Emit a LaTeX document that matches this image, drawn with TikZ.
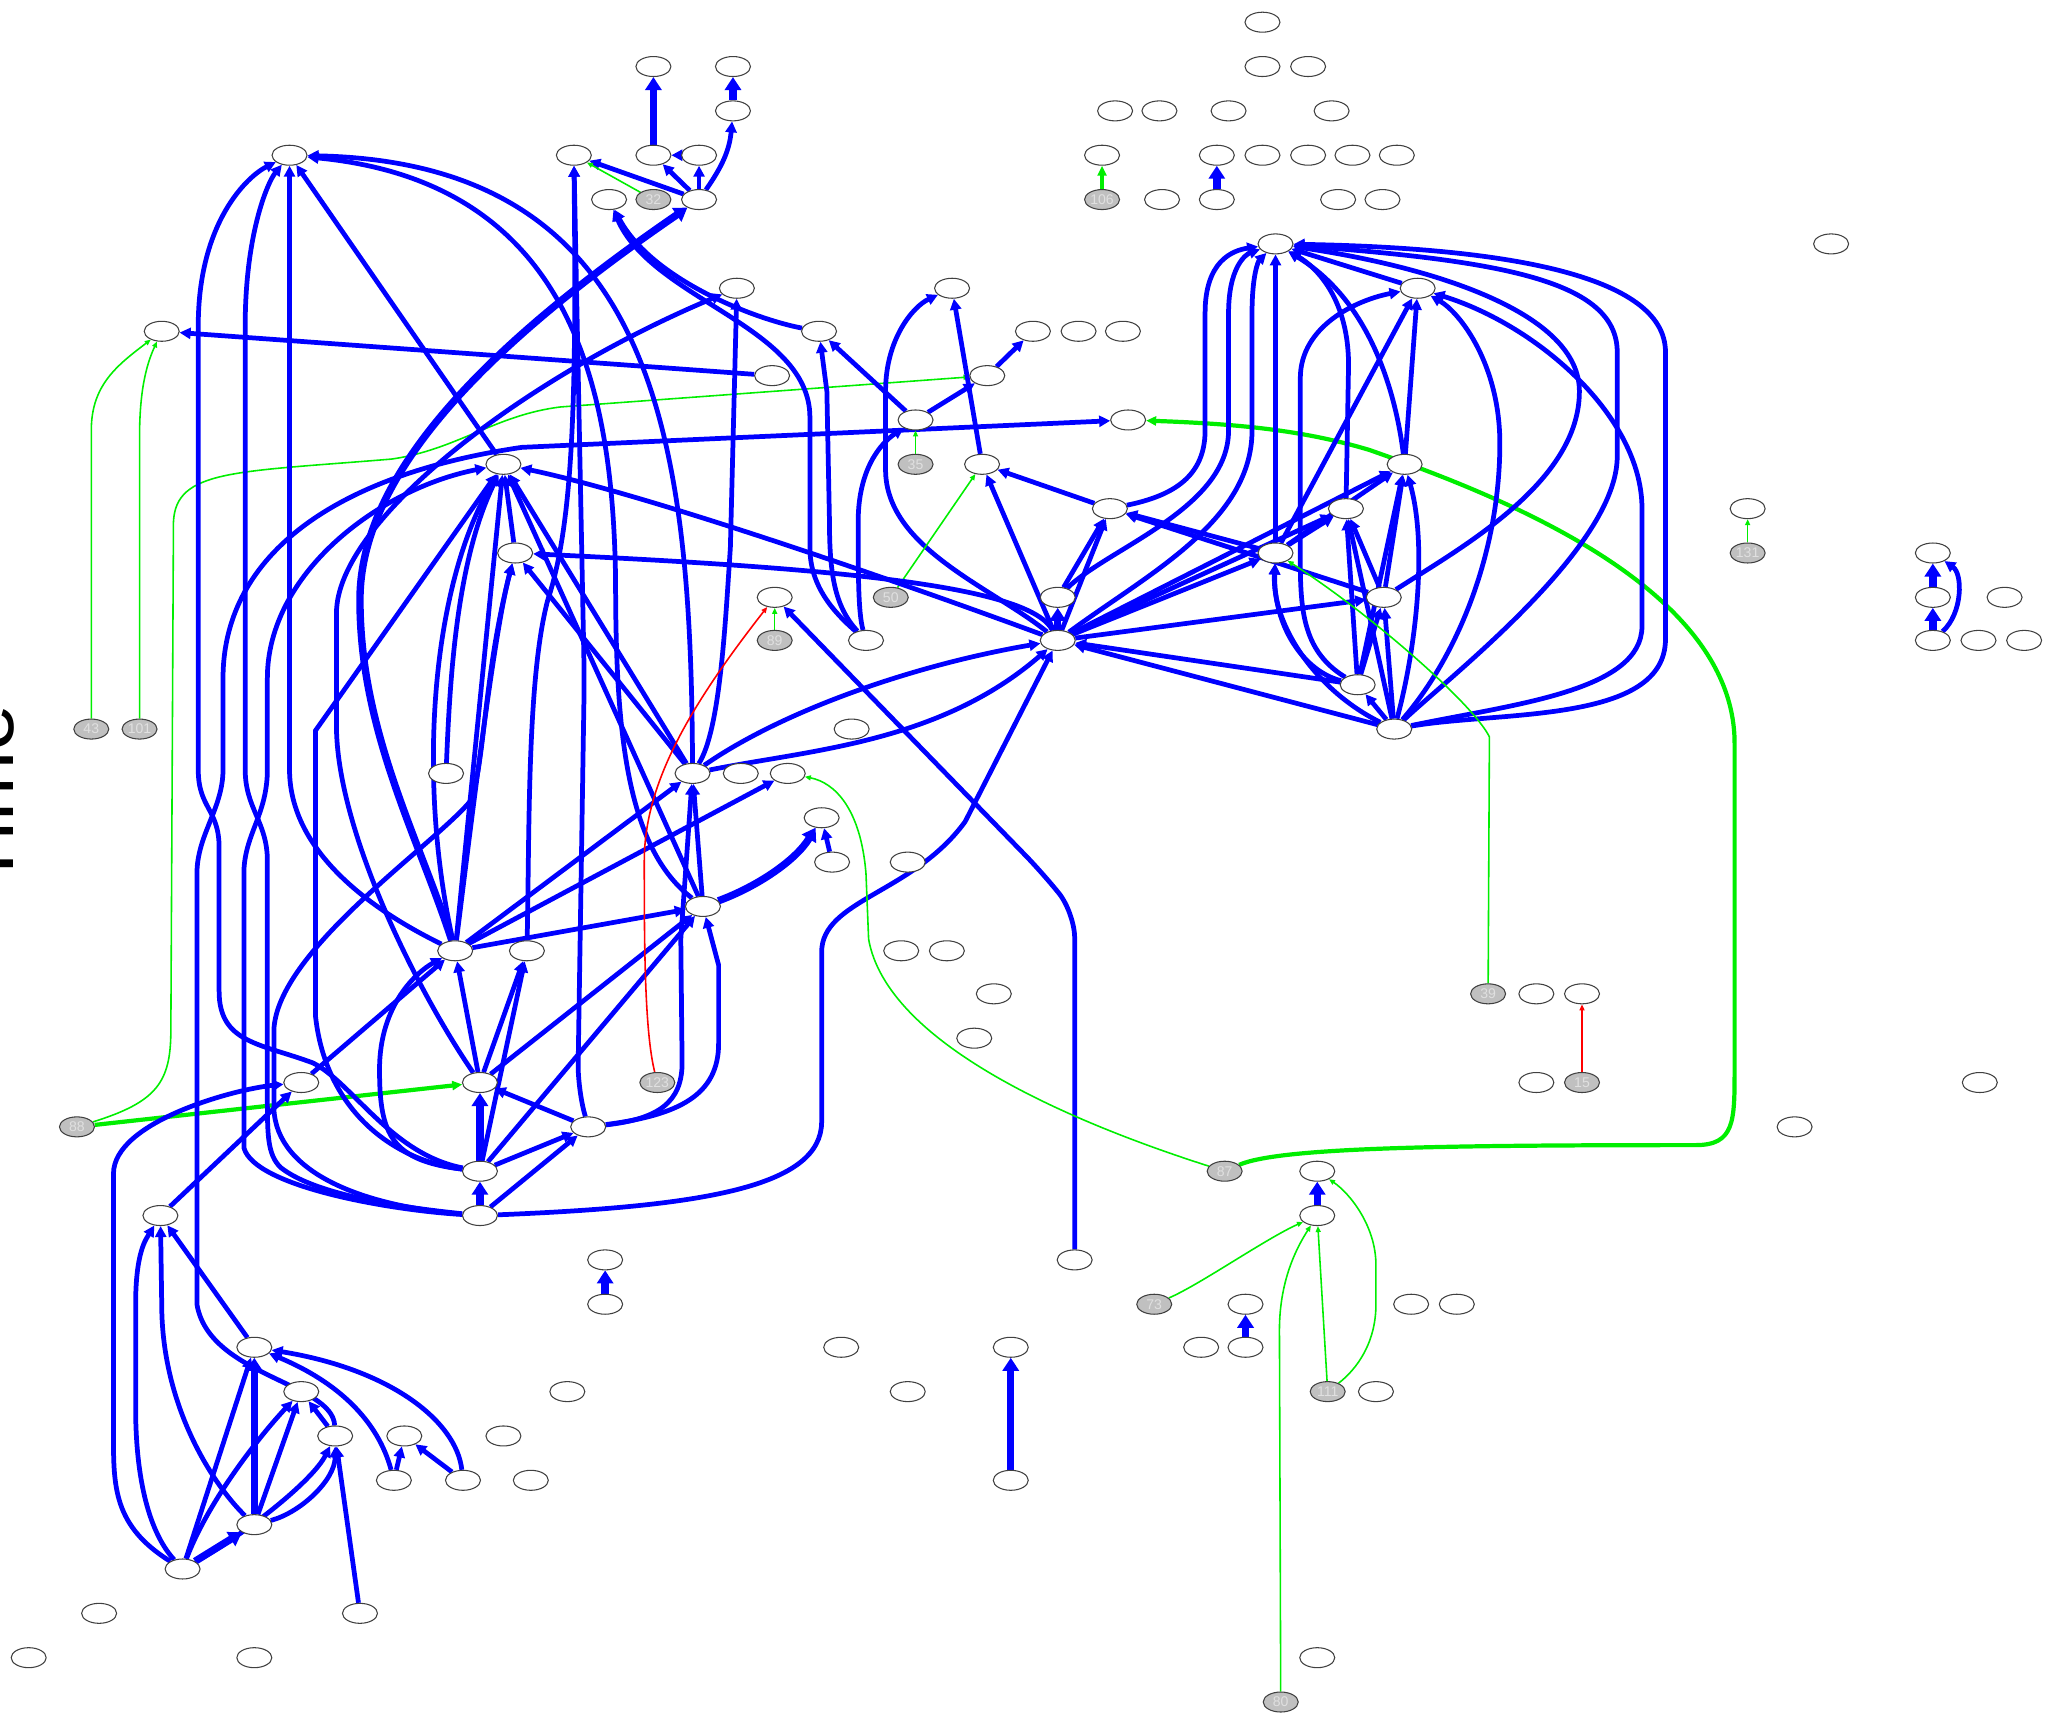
\documentclass[tikz,border=0pt]{standalone}
\usepackage{fontspec}
\setmainfont{Liberation Sans}
\usetikzlibrary{arrows.meta,shapes.geometric,backgrounds}
\definecolor{gvblue}{RGB}{0,0,255}
\definecolor{gvgreen}{RGB}{0,238,0}
\definecolor{gvred}{RGB}{255,0,0}
\definecolor{seedgray}{RGB}{192,192,192}

\begin{document}
\begin{tikzpicture}[
  x=0.013042cm, y=-0.013042cm,
  vtx/.style={ellipse, draw=black!75, line width=0.3pt, fill=white, minimum width=0.35cm, minimum height=0.2cm, inner sep=0pt},
  seed/.style={vtx, fill=seedgray, font=\fontsize{4}{4}\selectfont, text=black!12},
  flow/.style={draw=gvblue, line width=1.35pt, -{Triangle[length=0.11cm, width=0.11cm]}},
  flowx/.style={flow, line width=2.1pt, -{Triangle[length=0.13cm, width=0.16cm]}},
  trig/.style={draw=gvgreen, line width=0.45pt, -{Triangle[length=0.06cm, width=0.05cm]}},
  trigx/.style={trig, line width=1.2pt, -{Triangle[length=0.1cm, width=0.09cm]}},
  inhib/.style={trig, draw=gvred},
  kinked/.style={rounded corners=0.25cm}
]
\useasboundingbox (0,0) rectangle (1568,1315);

% time axis label
\node[rotate=90, anchor=base, font=\fontsize{24}{24}\selectfont] (timelbl) at (10,611) {Time};

% rows 0-5
\node[vtx] (r0a) at (968,17) {};
\node[vtx] (r1a) at (501,51) {};
\node[vtx] (r1b) at (562,51) {};
\node[vtx] (r1c) at (968,51) {};
\node[vtx] (r1d) at (1003,51) {};
\node[vtx] (r2a) at (562,85) {};
\node[vtx] (r2b) at (855,85) {};
\node[vtx] (r2c) at (889,85) {};
\node[vtx] (r2d) at (942,85) {};
\node[vtx] (r2e) at (1021,85) {};
\node[vtx] (r3a) at (222,119) {};
\node[vtx] (r3b) at (440,119) {};
\node[vtx] (r3c) at (501,119) {};
\node[vtx] (r3d) at (536,119) {};
\node[vtx] (r3e) at (845,119) {};
\node[vtx] (r3f) at (933,119) {};
\node[vtx] (r3g) at (968,119) {};
\node[vtx] (r3h) at (1003,119) {};
\node[vtx] (r3i) at (1037,119) {};
\node[vtx] (r3j) at (1071,119) {};
\node[vtx] (r4a) at (467,153) {};
\node[seed] (g32) at (501,153) {32};
\node[vtx] (r4b) at (536,153) {};
\node[seed] (g106) at (845,153) {106};
\node[vtx] (r4c) at (891,153) {};
\node[vtx] (r4d) at (933,153) {};
\node[vtx] (r4e) at (1026,153) {};
\node[vtx] (r4f) at (1060,153) {};
\node[vtx] (r5a) at (978,187) {};
\node[vtx] (r5b) at (1404,187) {};

% rows 6-14
\node[vtx] (r6a) at (565,221) {};
\node[vtx] (r6b) at (730,221) {};
\node[vtx] (r6c) at (1087,221) {};
\node[vtx] (r7a) at (124,254) {};
\node[vtx] (r7b) at (628,254) {};
\node[vtx] (r7c) at (792,254) {};
\node[vtx] (r7d) at (827,254) {};
\node[vtx] (r7e) at (861,254) {};
\node[vtx] (r8a) at (592,288) {};
\node[vtx] (r8b) at (757,288) {};
\node[vtx] (r9a) at (702,322) {};
\node[vtx] (r9b) at (865,322) {};
\node[vtx] (r10a) at (386,356) {};
\node[seed] (g35) at (702,356) {35};
\node[vtx] (r10b) at (753,356) {};
\node[vtx] (r10c) at (1077,356) {};
\node[vtx] (r11a) at (851,390) {};
\node[vtx] (r11b) at (1032,390) {};
\node[vtx] (r11c) at (1340,390) {};
\node[vtx] (r12a) at (395,424) {};
\node[vtx] (r12b) at (978,424) {};
\node[seed] (g131) at (1340,424) {131};
\node[vtx] (r12c) at (1482,424) {};
\node[vtx] (r13a) at (594,458) {};
\node[seed] (g50) at (683,458) {50};
\node[vtx] (r13b) at (811,458) {};
\node[vtx] (r13c) at (1061,458) {};
\node[vtx] (r13d) at (1482,458) {};
\node[vtx] (r13e) at (1537,458) {};
\node[seed] (g89) at (594,491) {89};
\node[vtx] (r14a) at (664,491) {};
\node[vtx] (r14b) at (811,491) {};
\node[vtx] (r14c) at (1482,491) {};
\node[vtx] (r14d) at (1517,491) {};
\node[vtx] (r14e) at (1552,491) {};

% rows 15-25
\node[vtx] (r15a) at (1041,525) {};
\node[seed] (g43) at (70,559) {43};
\node[seed] (g101) at (107,559) {101};
\node[vtx] (r16a) at (653,559) {};
\node[vtx] (r16b) at (1069,559) {};
\node[vtx] (r17a) at (342,593) {};
\node[vtx] (r17b) at (531,593) {};
\node[vtx] (r17c) at (568,593) {};
\node[vtx] (r17d) at (604,593) {};
\node[vtx] (r18a) at (630,627) {};
\node[vtx] (r19a) at (638,661) {};
\node[vtx] (r19b) at (696,661) {};
\node[vtx] (r20a) at (539,695) {};
\node[vtx] (r21a) at (349,729) {};
\node[vtx] (r21b) at (404,729) {};
\node[vtx] (r21c) at (691,729) {};
\node[vtx] (r21d) at (726,729) {};
\node[vtx] (r22a) at (762,762) {};
\node[seed] (g39) at (1141,762) {39};
\node[vtx] (r22b) at (1178,762) {};
\node[vtx] (r22c) at (1213,762) {};
\node[vtx] (r23a) at (747,796) {};
\node[vtx] (r24a) at (231,830) {};
\node[vtx] (r24b) at (368,830) {};
\node[seed] (g123) at (504,830) {123};
\node[vtx] (r24c) at (1178,830) {};
\node[seed] (g15) at (1213,830) {15};
\node[vtx] (r24d) at (1518,830) {};
\node[seed] (g88) at (59,864) {88};
\node[vtx] (r25a) at (451,864) {};
\node[vtx] (r25b) at (1376,864) {};

% rows 26-38
\node[vtx] (r26a) at (368,898) {};
\node[seed] (g87) at (939,898) {87};
\node[vtx] (r26b) at (1010,898) {};
\node[vtx] (r27a) at (123,932) {};
\node[vtx] (r27b) at (368,932) {};
\node[vtx] (r27c) at (1010,932) {};
\node[vtx] (r28a) at (464,966) {};
\node[vtx] (r28b) at (824,966) {};
\node[vtx] (r29a) at (464,1000) {};
\node[seed] (g73) at (885,1000) {73};
\node[vtx] (r29b) at (955,1000) {};
\node[vtx] (r29c) at (1082,1000) {};
\node[vtx] (r29d) at (1117,1000) {};
\node[vtx] (r30a) at (195,1033) {};
\node[vtx] (r30b) at (645,1033) {};
\node[vtx] (r30c) at (775,1033) {};
\node[vtx] (r30d) at (921,1033) {};
\node[vtx] (r30e) at (955,1033) {};
\node[vtx] (r31a) at (231,1067) {};
\node[vtx] (r31b) at (435,1067) {};
\node[vtx] (r31c) at (696,1067) {};
\node[seed] (g111) at (1018,1067) {111};
\node[vtx] (r31d) at (1055,1067) {};
\node[vtx] (r32a) at (257,1101) {};
\node[vtx] (r32b) at (310,1101) {};
\node[vtx] (r32c) at (386,1101) {};
\node[vtx] (r33a) at (302,1135) {};
\node[vtx] (r33b) at (355,1135) {};
\node[vtx] (r33c) at (407,1135) {};
\node[vtx] (r33d) at (775,1135) {};
\node[vtx] (r34a) at (195,1169) {};
\node[vtx] (r35a) at (140,1203) {};
\node[vtx] (r36a) at (76,1237) {};
\node[vtx] (r36b) at (276,1237) {};
\node[vtx] (r37a) at (22,1271) {};
\node[vtx] (r37b) at (195,1271) {};
\node[vtx] (r37c) at (1010,1271) {};
\node[seed] (g80) at (982,1305) {80};

\begin{scope}[on background layer]
% top cluster
\draw[flowx] (r3c) -- (r1a);
\draw[flowx] (r2a) -- (r1b);
\draw[flow] (r4b) to[out=55, in=-95] (r2a);
\draw[flow] (r3d) -- (r3c);
\draw[flow] (r4b) -- (r3c);
\draw[flow] (r4b) -- (r3d);
\draw[flow] (r4b) -- (r3b);
\draw[trig] (g32) -- (r3b);

% far left
\draw[flow] (r8a) -- (r7a);
\draw[trig] (g43) -- (70,330) .. controls (70,295) and (90,280) .. (r7a);
\draw[trig] (g101) -- (107,335) .. controls (107,300) and (112,280) .. (r7a);
\draw[trig] (g88) .. controls (120,845) and (131,830) .. (131,790) -- (133,400) .. controls (135,360) and (180,362) .. (300,352) .. controls (350,345) and (380,318) .. (430,312) -- (r8b);
\draw[trigx] (g88) -- (r24b);

% left channels with their crossings
\draw[flow] (r26a) .. controls (300,885) and (270,830) .. (240,815) .. controls (200,800) and (168,800) .. (168,760) -- (168,650) .. controls (168,620) and (152,620) .. (152,590) -- (152,250) .. controls (152,170) and (190,135) .. (r3a);
\draw[flow] (r32a) .. controls (255,1060) and (160,1055) .. (151,1000) -- (151,670) .. controls (151,640) and (171,620) .. (171,590) -- (171,520) .. controls (171,430) and (250,365) .. (400,343) -- (r9b);
\draw[flow] (r27b) .. controls (300,925) and (240,915) .. (215,895) .. controls (205,885) and (205,870) .. (205,840) -- (205,660) .. controls (205,630) and (188,620) .. (188,590) -- (188,250) .. controls (188,180) and (205,140) .. (r3a);
\draw[flow] (r27b) .. controls (300,928) and (195,910) .. (187,880) -- (187,670) .. controls (187,640) and (205,625) .. (205,590) -- (205,520) .. controls (205,440) and (290,375) .. (r10a);
\draw[flow] (r27b) .. controls (280,925) and (212,900) .. (210,850) -- (210,790) .. controls (212,730) and (330,650) .. (360,615) .. controls (372,590) and (370,520) .. (r12a);
\draw[flow] (r21a) .. controls (300,705) and (222,660) .. (222,590) -- (r3a);
\draw[flow] (r10a) -- (r3a);
\draw[flow] (r17b) .. controls (530,330) and (500,125) .. (r3a);
\draw[flow] (r20a) .. controls (480,650) and (472,560) .. (472,445) .. controls (470,300) and (440,140) .. (r3a);

% r3b, r4a, r4b, r6a
\draw[flow, kinked] (r25a) -- (443,835) -- (448,520) -- (r3b);
\draw[flow] (r21b) .. controls (406,640) and (404,520) .. (420,460) .. controls (440,400) and (442,300) .. (r3b);
\draw[flow] (r14a) .. controls (640,470) and (621,450) .. (621,420) -- (621,320) .. controls (621,250) and (500,230) .. (r4a);
\draw[flow] (r7b) .. controls (580,245) and (500,215) .. (r4a);
\draw[flowx] (r21a) .. controls (320,640) and (276,560) .. (276,460) .. controls (276,360) and (380,260) .. (r4b);
\draw[flow] (r17b) .. controls (552,560) and (556,480) .. (560,420) -- (r6a);
\draw[flow] (r24b) .. controls (320,760) and (260,640) .. (258,560) -- (258,470) .. controls (258,400) and (400,290) .. (r6a);

% middle top
\draw[flow] (r14a) .. controls (640,465) and (636,440) .. (636,400) -- (634,300) -- (r7b);
\draw[flow] (r14a) .. controls (658,470) and (658,440) .. (658,400) .. controls (658,360) and (675,340) .. (r9a);
\draw[flow] (r9a) -- (r7b);
\draw[flow] (r9a) -- (r8b);
\draw[trig] (g35) -- (r9a);
\draw[flow] (r8b) -- (r7c);
\draw[flow] (r10b) -- (r6b);
\draw[flow] (r14b) .. controls (760,450) and (679,420) .. (679,360) -- (679,300) .. controls (679,260) and (700,235) .. (r6b);
\draw[trig] (g50) -- (r10b);
\draw[trigx] (g87) .. controls (980,880) and (1100,878) .. (1300,878) .. controls (1330,878) and (1330,860) .. (1330,820) -- (1330,570) .. controls (1330,450) and (1150,380) .. (1050,345) .. controls (1000,330) and (950,325) .. (r9b);

% around r10a and r12a
\draw[flow] (r14b) .. controls (700,450) and (500,380) .. (r10a);
\draw[flow] (r14b) .. controls (790,450) and (650,436) .. (r12a);
\draw[flow] (r17b) -- (r10a);
\draw[flow] (r17b) -- (r12a);
\draw[flow] (r12a) -- (r10a);
\draw[flow] (r21a) -- (r10a);
\draw[flow] (r21a) .. controls (320,600) and (330,450) .. (r10a);
\draw[flow] (r20a) -- (r10a);
\draw[flow] (r26a) .. controls (300,890) and (250,850) .. (242,780) -- (242,560) -- (r10a);
\draw[flow] (r17a) .. controls (345,520) and (350,430) .. (r10a);
\draw[flow] (r21a) .. controls (365,600) and (380,480) .. (r12a);

% lower middle
\draw[flowx] (r27b) -- (r26a);
\draw[flowx] (r26a) -- (r24b);
\draw[flow] (r27b) -- (r25a);
\draw[flow] (r26a) -- (r25a);
\draw[flow] (r25a) -- (r24b);
\draw[flow] (r26a) -- (r21b);
\draw[flow] (r26a) .. controls (300,890) and (291,870) .. (291,820) .. controls (291,770) and (320,745) .. (r21a);
\draw[flow] (r24a) -- (r21a);
\draw[flow] (r24b) -- (r21a);
\draw[flow] (r24b) -- (r21b);
\draw[flow] (r26a) -- (r20a);
\draw[flow] (r24b) -- (r20a);
\draw[flow] (r21a) -- (r20a);
\draw[flow] (r21a) -- (r17b);
\draw[flow] (r21a) -- (r17d);
\draw[flow] (r20a) -- (r17b);
\draw[flow] (r25a) .. controls (505,858) and (523,845) .. (523,815) -- (522,720) -- (r17b);
\draw[flow] (r25a) .. controls (520,855) and (551,840) .. (551,800) -- (551,740) -- (r20a);
\draw[flowx] (r20a) .. controls (580,680) and (610,660) .. (r18a);
\draw[flow] (r19a) -- (r18a);
\draw[flow] (r27b) .. controls (540,925) and (630,910) .. (630,860) -- (630,730) .. controls (630,690) and (700,685) .. (740,630) -- (r14b);
\draw[flow] (r17b) .. controls (620,575) and (720,570) .. (r14b);
\draw[flow] (r17b) .. controls (600,545) and (700,510) .. (r14b);
\draw[flow, kinked] (r28b) -- (824,700) -- (800,670) -- (r13a);
\draw[trig] (g89) -- (r13a);
\draw[inhib] (g123) .. controls (494,790) and (494,720) .. (494,660) .. controls (494,600) and (530,540) .. (r13a);
\draw[trig] (g87) .. controls (820,860) and (680,800) .. (666,720) -- (664,670) .. controls (660,620) and (640,600) .. (r17d);

% bottom left
\draw[flow] (r35a) .. controls (87,1170) and (87,1140) .. (87,1100) -- (87,900) .. controls (87,860) and (180,835) .. (r24a);
\draw[flow] (r27a) -- (r24a);
\draw[flow] (r30a) -- (r27a);
\draw[flow] (r35a) .. controls (110,1170) and (104,1120) .. (104,1080) -- (104,1000) .. controls (104,960) and (112,950) .. (r27a);
\draw[flow] (r34a) .. controls (165,1140) and (124,1080) .. (124,1000) -- (r27a);
\draw[flow] (r35a) -- (r30a);
\draw[flowx] (r34a) -- (r30a);
\draw[flowx] (r35a) -- (r34a);
\draw[flow] (r35a) .. controls (160,1150) and (200,1100) .. (r31a);
\draw[flow] (r35a) .. controls (190,1175) and (240,1135) .. (r32a);
\draw[flow] (r34a) -- (r31a);
\draw[flow] (r34a) .. controls (230,1160) and (257,1135) .. (r32a);
\draw[flow] (r32a) -- (r31a);
\draw[flow] (r33a) -- (r32b);
\draw[flow] (r33b) -- (r32b);
\draw[flow] (r36b) -- (r32a);
\draw[flow] (r33b) .. controls (350,1090) and (300,1050) .. (r30a);
\draw[flow] (r33a) .. controls (290,1090) and (260,1060) .. (r30a);

% right cluster
\draw[flowx] (r14b) -- (r13b);
\draw[flow] (r13b) -- (r11a);
\draw[flow] (r14b) -- (r11a);
\draw[flow] (r11a) -- (r10b);
\draw[flow] (r14b) -- (r10b);
\draw[flow] (r11a) .. controls (900,380) and (924,365) .. (924,330) -- (924,240) .. controls (924,200) and (945,192) .. (r5a);
\draw[flow] (r13b) .. controls (850,420) and (942,390) .. (942,330) -- (942,240) .. controls (942,205) and (955,195) .. (r5a);
\draw[flow] (r14b) .. controls (880,440) and (960,400) .. (960,330) -- (960,240) .. controls (960,210) and (965,200) .. (r5a);
\draw[flow] (r12b) -- (r5a);
\draw[flow] (r11b) -- (1034,280) .. controls (1034,230) and (1010,205) .. (r5a);
\draw[flow] (r10c) .. controls (1070,300) and (1050,230) .. (r5a);
\draw[flow] (r6c) -- (r5a);
\draw[flow] (r16b) .. controls (1150,545) and (1277,555) .. (1277,490) -- (1277,270) .. controls (1277,210) and (1150,190) .. (r5a);
\draw[flow] (r16b) .. controls (1110,520) and (1240,420) .. (1240,350) -- (1240,270) .. controls (1240,215) and (1150,200) .. (r5a);
\draw[flow] (r16b) .. controls (1160,540) and (1259,530) .. (1259,480) -- (1259,390) .. controls (1259,320) and (1180,250) .. (r6c);
\draw[flow] (r13c) .. controls (1120,420) and (1211,370) .. (1211,300) .. controls (1211,240) and (1100,205) .. (r5a);
\draw[flow] (r15a) .. controls (1000,500) and (997,470) .. (997,430) -- (997,290) .. controls (997,250) and (1040,230) .. (r6c);
\draw[flow] (r12b) -- (r6c);
\draw[flow] (r10c) -- (r6c);
\draw[flow] (r16b) .. controls (1120,500) and (1150,420) .. (1150,340) .. controls (1150,280) and (1120,240) .. (r6c);
\draw[flow] (r14b) -- (r12b);
\draw[flow] (r14b) -- (r11b);
\draw[flow] (r14b) -- (r10c);
\draw[flow] (r14b) -- (r13c);
\draw[flow] (r15a) -- (r14b);
\draw[flow] (r16b) -- (r14b);
\draw[flow] (r12b) -- (r11a);
\draw[flow] (r13c) -- (r11a);
\draw[flow] (r12b) -- (r10c);
\draw[flow] (r12b) -- (r11b);
\draw[flow] (r13c) -- (r10c);
\draw[flow] (r13c) -- (r11b);
\draw[flow] (r15a) .. controls (1000,515) and (976,480) .. (r12b);
\draw[flow] (r15a) -- (r11b);
\draw[flow] (r15a) -- (r10c);
\draw[flow] (r15a) -- (r13c);
\draw[flow] (r16b) .. controls (1085,500) and (1095,420) .. (r10c);
\draw[flow] (r16b) -- (r11b);
\draw[flow] (r16b) -- (r13c);
\draw[flow] (r16b) -- (r15a);
\draw[flow] (r16b) .. controls (1010,530) and (975,480) .. (r12b);
\draw[trig] (g39) -- (1142,565) .. controls (1130,540) and (1050,470) .. (r12b);

% right small groups
\draw[flowx] (r14c) -- (r13d);
\draw[flowx] (r13d) -- (r12c);
\draw[flow] (r14c) .. controls (1505,470) and (1505,440) .. (r12c);
\draw[trig] (g131) -- (r11c);
\draw[trigx] (g106) -- (r3e);
\draw[flowx] (r4d) -- (r3f);
\draw[inhib] (g15) -- (r22c);

% bottom right
\draw[flowx] (r27c) -- (r26b);
\draw[trig] (g73) .. controls (920,985) and (970,950) .. (r27c);
\draw[trig] (g111) -- (r27c);
\draw[trig] (g111) .. controls (1040,1050) and (1055,1030) .. (1055,1000) -- (1055,970) .. controls (1055,940) and (1035,915) .. (r26b);
\draw[trig] (g80) -- (981,1020) .. controls (981,985) and (992,960) .. (r27c);
\draw[flowx] (r30e) -- (r29b);
\draw[flowx] (r33d) -- (r30c);
\draw[flowx] (r29a) -- (r28a);
\end{scope}
\end{tikzpicture}
\end{document}
